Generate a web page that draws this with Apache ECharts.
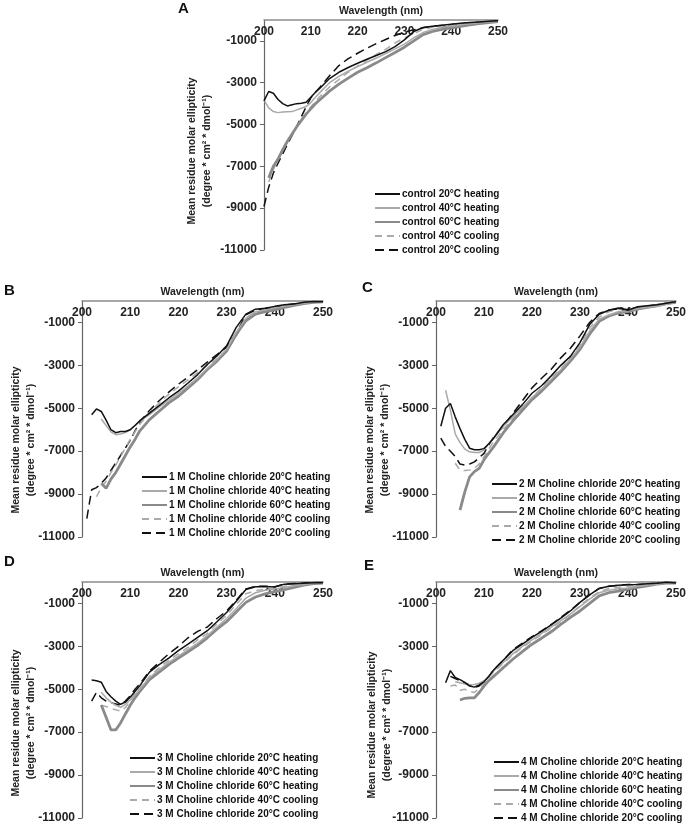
<!DOCTYPE html>
<html>
<head>
<meta charset="utf-8">
<script src="https://cdn.jsdelivr.net/npm/echarts@6/dist/echarts.min.js"></script>
<style>html,body{margin:0;padding:0;background:#fff}#c{width:689px;height:829px}</style>
</head>
<body>
<div id="c"></div>
<script>
// ---------- data ----------
const WL = [200,201,202,203,204,205,206,207,208,209,210,211,212,214,216,218,220,222,224,226,228,230,232,234,236,238,240,242,244,246,248,250];
const CONDITIONS = ['20°C heating','40°C heating','60°C heating','40°C cooling','20°C cooling'];
const PREFIXES = ['control','1 M Choline chloride','2 M Choline chloride','3 M Choline chloride','4 M Choline chloride'];
const PANEL_LETTERS = ['A','B','C','D','E'];
const X_NAME = 'Wavelength (nm)';
const Y_NAME = 'Mean residue molar ellipticity\n(degree * cm² * dmol⁻¹)';

// Panel A (control)
const A20h = [-3870,-3420,-3500,-3800,-4000,-4110,-4050,-4000,-3980,-3930,-3700,-3450,-3250,-2800,-2500,-2270,-2070,-1880,-1700,-1510,-1270,-950,-550,-360,-300,-250,-200,-150,-120,-90,-60,-40];
const A40h = [-3820,-4200,-4380,-4430,-4400,-4390,-4380,-4300,-4220,-4140,-3950,-3700,-3450,-3000,-2700,-2450,-2230,-2020,-1820,-1600,-1380,-1150,-850,-600,-450,-350,-300,-230,-180,-130,-90,-70];
const A60h = [null,-7550,-7000,-6650,-6200,-5800,-5450,-5100,-4800,-4500,-4250,-4000,-3800,-3400,-3070,-2780,-2500,-2280,-2050,-1800,-1550,-1300,-1000,-700,-550,-450,-380,-300,-230,-170,-120,-80];
const A40c = [null,-7750,-7150,-6700,-6250,-5850,-5450,-5100,-4750,-4450,-4150,-3900,-3650,-3200,-2850,-2500,-2200,-1920,-1650,-1400,-1100,-850,-650,-450,-350,-270,-220,-170,-130,-100,-70,-50];
const A20c = [-8920,-8000,-7320,-6850,-6400,-5950,-5520,-5080,-4620,-4150,-3720,-3460,-3200,-2670,-2180,-1850,-1590,-1350,-1130,-930,-740,-580,-470,-370,-300,-260,-220,-170,-130,-100,-70,-50];
// Panel B (1 M)
const B20h = [null,null,-5300,-5030,-5150,-5550,-6000,-6140,-6080,-6080,-6000,-5800,-5580,-5230,-4880,-4520,-4200,-3820,-3430,-2960,-2560,-2090,-1230,-610,-380,-340,-250,-180,-140,-60,-20,-30];
const B40h = [null,null,null,null,-5500,-5800,-6100,-6230,-6200,-6130,-6000,-5800,-5600,-5300,-4950,-4620,-4300,-3950,-3580,-3150,-2720,-2250,-1450,-800,-500,-420,-330,-250,-170,-100,-50,-40];
const B60h = [null,null,null,null,-8500,-8730,-8300,-8000,-7600,-7200,-6800,-6450,-6050,-5530,-5140,-4750,-4440,-4050,-3660,-3190,-2800,-2330,-1550,-920,-610,-500,-410,-300,-200,-120,-60,-40];
const B40c = [null,null,null,-9125,-8700,-8400,-8000,-7650,-7250,-6850,-6450,-6100,-5750,-5200,-4750,-4350,-4000,-3680,-3330,-3000,-2700,-2300,-1650,-800,-500,-400,-300,-220,-150,-100,-50,-40];
const B20c = [null,-10140,-8800,-8700,-8500,-8250,-7900,-7550,-7200,-6850,-6500,-6050,-5650,-5100,-4650,-4250,-3880,-3550,-3200,-2850,-2500,-2150,-1500,-650,-420,-350,-280,-200,-130,-80,-40,-30];
// Panel C (2 M)
const C20h = [null,-5840,-5000,-4780,-5400,-5950,-6450,-6860,-6930,-6930,-6880,-6650,-6400,-5770,-5300,-4830,-4300,-3950,-3490,-3000,-2580,-1940,-1100,-620,-430,-330,-430,-270,-220,-170,-100,-40];
const C40h = [null,null,-4160,-5100,-6190,-6600,-6900,-7030,-7060,-7060,-6950,-6650,-6400,-5850,-5400,-4950,-4500,-4100,-3650,-3200,-2700,-2150,-1400,-850,-650,-500,-450,-350,-300,-250,-150,-60];
const C60h = [null,null,null,null,null,-9750,-8900,-8200,-7950,-7800,-7400,-7090,-6800,-6150,-5600,-5100,-4600,-4200,-3750,-3300,-2800,-2250,-1550,-950,-700,-550,-500,-380,-300,-230,-120,-60];
const C40c = [null,null,null,null,-7560,-7880,-7900,-7880,-7800,-7600,-7250,-6900,-6550,-6000,-5500,-5000,-4500,-4050,-3600,-3150,-2650,-2050,-1250,-750,-500,-380,-400,-300,-250,-180,-100,-50];
const C20c = [null,-6390,-6780,-7000,-7250,-7600,-7650,-7600,-7500,-7300,-7100,-6700,-6350,-5850,-5250,-4650,-4050,-3600,-3180,-2650,-2200,-1625,-1000,-580,-420,-370,-400,-300,-240,-180,-100,-40];
// Panel D (3 M)
const D20h = [null,null,-4565,-4600,-4670,-5100,-5350,-5550,-5700,-5600,-5370,-5100,-4830,-4200,-3850,-3550,-3200,-2900,-2580,-2270,-1850,-1420,-900,-350,-220,-210,-230,-100,-80,-60,-30,-30];
const D40h = [null,null,null,null,-5140,-5400,-5600,-5750,-5840,-5700,-5500,-5250,-5000,-4450,-4100,-3750,-3450,-3150,-2850,-2500,-2100,-1700,-1250,-750,-500,-380,-330,-250,-180,-120,-60,-50];
const D60h = [null,null,null,null,-5730,-6300,-6890,-6890,-6570,-6150,-5750,-5400,-5100,-4550,-4200,-3850,-3550,-3250,-2950,-2600,-2200,-1850,-1400,-950,-700,-550,-450,-350,-250,-150,-80,-50];
const D40c = [null,null,null,null,-5760,-5800,-5900,-5950,-6020,-5850,-5550,-5200,-4950,-4400,-4000,-3650,-3350,-3050,-2700,-2400,-1950,-1550,-1050,-550,-400,-330,-300,-200,-150,-100,-50,-40];
const D20c = [null,null,-5550,-5150,-5400,-5550,-5620,-5680,-5750,-5550,-5300,-5000,-4750,-4150,-3750,-3350,-3000,-2600,-2300,-2100,-1700,-1350,-850,-320,-200,-200,-220,-100,-70,-50,-30,-20];
// Panel E (4 M)
const E20h = [null,null,-4700,-4130,-4450,-4550,-4680,-4850,-4900,-4800,-4650,-4400,-4100,-3650,-3200,-2900,-2580,-2300,-2000,-1680,-1350,-950,-600,-300,-200,-150,-130,-120,-80,-60,-10,-50];
const E40h = [null,null,null,null,-4650,-4700,-4750,-4800,-4780,-4720,-4600,-4400,-4150,-3750,-3350,-3000,-2700,-2400,-2100,-1800,-1500,-1150,-800,-500,-380,-320,-280,-200,-150,-100,-50,-50];
const E60h = [null,null,null,null,null,-5500,-5420,-5400,-5400,-5150,-4850,-4600,-4400,-4000,-3600,-3250,-2900,-2620,-2320,-1980,-1650,-1350,-1000,-650,-500,-430,-330,-250,-180,-100,-50,-50];
const E40c = [null,null,null,-4850,-4800,-5050,-5000,-5100,-5150,-4950,-4700,-4450,-4200,-3800,-3400,-3050,-2750,-2450,-2150,-1850,-1500,-1100,-750,-450,-300,-250,-200,-150,-100,-50,-20,-40];
const E20c = [null,null,null,-4400,-4500,-4600,-4700,-4800,-4920,-4850,-4650,-4400,-4100,-3650,-3150,-2850,-2550,-2280,-1980,-1650,-1320,-950,-600,-300,-200,-150,-120,-120,-100,-50,-10,-40];

const PANEL_VALUES = [
  [A20h,A40h,A60h,A40c,A20c],
  [B20h,B40h,B60h,B40c,B20c],
  [C20h,C40h,C60h,C40c,C20c],
  [D20h,D40h,D60h,D40c,D20c],
  [E20h,E40h,E60h,E40c,E20c]
];

// ---------- layout & style ----------
const FONT = '"Liberation Sans", Arial, Helvetica, sans-serif';
const GRIDS = [
  {left:264, top:20,  width:234, height:230},
  {left:82,  top:301, width:241, height:236},
  {left:436, top:301, width:241, height:236},
  {left:82,  top:582, width:241, height:236},
  {left:436, top:582, width:241, height:236}
];
const LEGEND_POS = [
  {left:374, top:189},
  {left:141, top:472},
  {left:491, top:479},
  {left:129, top:753},
  {left:493, top:757}
];
const LETTER_POS = [[184,9],[10,291],[368,288],[10,562],[370,566]];
const YNAME_POS = [[200,151],[24,440],[378,440],[24,723],[380,725]];
const STYLES = [
  {color:'#111111', width:1.5, type:'solid'},
  {color:'#a9a9a9', width:1.5, type:'solid'},
  {color:'#8a8a8a', width:2.8, type:'solid'},
  {color:'#aaaaaa', width:1.5, type:[7,5]},
  {color:'#111111', width:1.5, type:[9,5]}
];

const grid = [], xAxis = [], yAxis = [], series = [], legend = [], graphic = [];
GRIDS.forEach((g, p) => {
  grid.push(Object.assign({containLabel:false}, g));
  xAxis.push({
    gridIndex:p, type:'value', position:'top', min:200, max:250, interval:10,
    name:X_NAME, nameLocation:'middle', nameGap:3,
    nameTextStyle:{fontFamily:FONT, fontSize:10.5, fontWeight:'bold', color:'#222'},
    axisLine:{show:true, onZero:false, lineStyle:{color:'#8c8c8c', width:1.5}},
    axisTick:{show:false},
    axisLabel:{inside:true, margin:6, fontFamily:FONT, fontSize:12, fontWeight:'bold', color:'#222', showMinLabel:true, showMaxLabel:true},
    splitLine:{show:false}
  });
  yAxis.push({
    gridIndex:p, type:'value', min:-11000, max:0, interval:2000,
    axisLine:{show:true, onZero:false, lineStyle:{color:'#666', width:1.2}},
    axisTick:{show:true, inside:false, length:4, lineStyle:{color:'#666', width:1}},
    axisLabel:{margin:7, fontFamily:FONT, fontSize:12, fontWeight:'bold', color:'#222',
      showMaxLabel:false, formatter:v => (v === 0 ? '' : String(v))},
    splitLine:{show:false}
  });
  const names = [];
  PANEL_VALUES[p].forEach((vals, s) => {
    const name = PREFIXES[p] + ' ' + CONDITIONS[s];
    names.push(name);
    series.push({
      name, type:'line', xAxisIndex:p, yAxisIndex:p,
      data: WL.map((w, i) => [w, vals[i]]).filter(d => d[1] !== null),
      symbol:'none', showSymbol:false, smooth:false, animation:false,
      lineStyle:{color:STYLES[s].color, width:STYLES[s].width, type:STYLES[s].type},
      itemStyle:{color:STYLES[s].color},
      z: 10 - s
    });
  });
  legend.push({
    data:names, orient:'vertical', left:LEGEND_POS[p].left, top:LEGEND_POS[p].top,
    itemWidth:25, itemHeight:10, itemGap:4, padding:0, selectedMode:false,
    itemStyle:{opacity:0, borderWidth:0},
    textStyle:{fontFamily:FONT, fontSize:10, fontWeight:'bold', color:'#111', padding:[0,0,0,-3]}
  });
  graphic.push({
    type:'text', left:LETTER_POS[p][0]-6, top:LETTER_POS[p][1]-8,
    style:{text:PANEL_LETTERS[p], font:'bold 15px ' + FONT, fill:'#111'}
  });
  graphic.push({
    type:'text', x:YNAME_POS[p][0], y:YNAME_POS[p][1], rotation:Math.PI/2,
    style:{text:Y_NAME, font:'bold 10.5px ' + FONT, fill:'#222', textAlign:'center', textVerticalAlign:'middle', lineHeight:15}
  });
});

const chart = echarts.init(document.getElementById('c'), null, {renderer:'canvas'});
chart.setOption({animation:false, backgroundColor:'#fff', grid, xAxis, yAxis, series, legend, graphic});
</script>
</body>
</html>
